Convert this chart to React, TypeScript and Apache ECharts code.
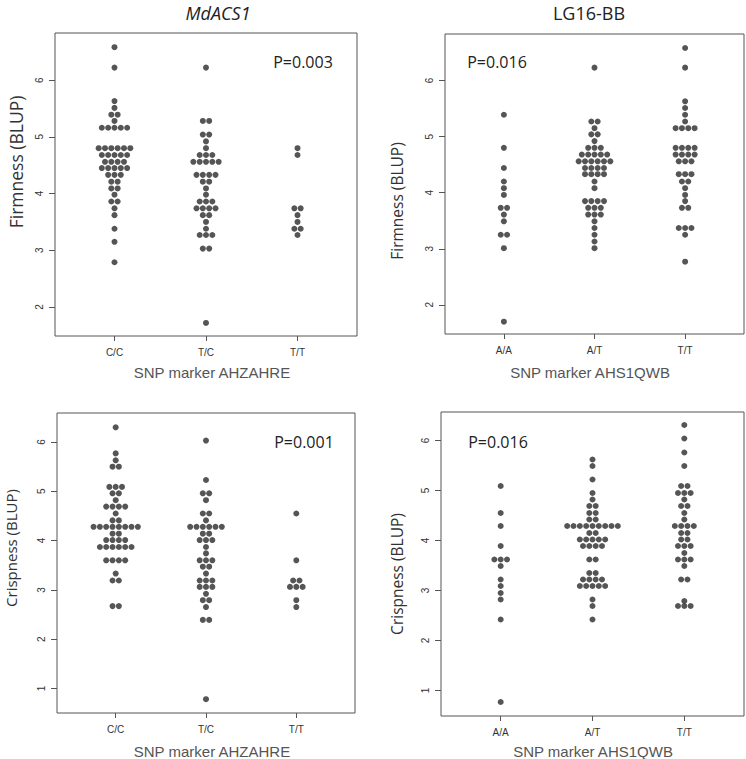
import React, { useEffect, useRef } from "react";
import * as echarts from "echarts";

// tick labels
const FIRM_TICKS = [2, 3, 4, 5, 6];
const CRISP_TICKS = [1, 2, 3, 4, 5, 6];
const AHZ_CATS = ["C/C", "T/C", "T/T"];
const AHS_CATS = ["A/A", "A/T", "T/T"];

// beeswarm rows: [value, number of dots in that row]
const firmCC = [[6.58, 1], [6.22, 1], [5.63, 1], [5.51, 1], [5.39, 2], [5.28, 1], [5.16, 5], [4.8, 6], [4.68, 5], [4.56, 4], [4.45, 5], [4.33, 3], [4.21, 2], [4.09, 2], [3.98, 1], [3.86, 2], [3.74, 1], [3.62, 1], [3.38, 1], [3.15, 1], [2.79, 1]];
const firmTC = [[6.22, 1], [5.28, 2], [5.04, 2], [4.92, 1], [4.8, 1], [4.68, 3], [4.56, 5], [4.33, 4], [4.21, 2], [4.09, 1], [3.98, 1], [3.86, 3], [3.74, 4], [3.62, 2], [3.5, 1], [3.38, 1], [3.27, 3], [3.03, 2], [1.72, 1]];
const firmTT1 = [[4.8, 1], [4.68, 1], [3.74, 2], [3.62, 1], [3.5, 1], [3.38, 2], [3.27, 1]];

const firmAA = [[5.39, 1], [4.8, 1], [4.44, 1], [4.2, 1], [4.08, 1], [3.96, 1], [3.73, 2], [3.61, 1], [3.49, 1], [3.25, 2], [3.01, 1], [1.7, 1]];
const firmAT = [[6.23, 1], [5.27, 2], [5.15, 1], [5.04, 2], [4.92, 1], [4.8, 3], [4.68, 5], [4.56, 6], [4.44, 4], [4.33, 4], [4.2, 1], [4.08, 1], [3.85, 4], [3.73, 3], [3.61, 3], [3.49, 1], [3.37, 1], [3.25, 1], [3.13, 1], [3.01, 1]];
const firmTT2 = [[6.58, 1], [6.23, 1], [5.63, 1], [5.51, 1], [5.39, 1], [5.27, 1], [5.15, 4], [4.8, 4], [4.68, 4], [4.56, 3], [4.33, 3], [4.2, 2], [4.08, 1], [3.96, 1], [3.85, 1], [3.73, 2], [3.37, 3], [3.25, 1], [2.77, 1]];

const crispCC = [[6.3, 1], [5.77, 1], [5.63, 1], [5.5, 2], [5.09, 3], [4.96, 2], [4.82, 1], [4.69, 4], [4.55, 1], [4.41, 2], [4.28, 8], [4.14, 2], [4.01, 4], [3.87, 6], [3.6, 4], [3.33, 1], [3.19, 2], [2.67, 2]];
const crispTC = [[6.03, 1], [5.23, 1], [4.96, 2], [4.82, 1], [4.55, 2], [4.41, 1], [4.28, 6], [4.14, 2], [4.01, 3], [3.87, 1], [3.74, 1], [3.6, 3], [3.47, 2], [3.33, 1], [3.19, 3], [3.06, 3], [2.92, 1], [2.79, 2], [2.65, 1], [2.39, 2], [0.78, 1]];
const crispTT1 = [[4.55, 1], [3.6, 1], [3.19, 2], [3.06, 3], [2.79, 1], [2.65, 1]];

const crispAA = [[5.09, 1], [4.55, 1], [4.29, 1], [3.89, 1], [3.62, 3], [3.49, 1], [3.22, 1], [3.09, 1], [2.95, 1], [2.82, 1], [2.42, 1], [0.77, 1]];
const crispAT = [[5.62, 1], [5.49, 1], [5.22, 1], [4.95, 1], [4.82, 1], [4.69, 2], [4.55, 2], [4.42, 2], [4.29, 9], [4.15, 2], [4.02, 5], [3.89, 4], [3.62, 2], [3.35, 2], [3.22, 4], [3.09, 5], [2.82, 1], [2.69, 1], [2.42, 1]];
const crispTT2 = [[6.31, 1], [6.04, 1], [5.76, 1], [5.49, 1], [5.09, 2], [4.95, 3], [4.82, 1], [4.69, 2], [4.55, 1], [4.42, 1], [4.29, 4], [4.15, 2], [4.02, 2], [3.89, 3], [3.75, 1], [3.62, 3], [3.49, 1], [3.22, 2], [2.79, 1], [2.69, 3]];

const P_VALUES = ["P=0.003", "P=0.016", "P=0.001", "P=0.016"];

// lay out one group's rows side by side around its category position
function swarm(rows: number[][], center: number, step: number) {
  const pts: number[][] = [];
  rows.forEach(([v, n]) => {
    for (let i = 0; i < n; i++) {
      pts.push([center + (i - (n - 1) / 2) * step, v]);
    }
  });
  return pts;
}

const panels = [
  { grid: { left: 55, top: 33, width: 302, height: 303 }, yMin: 1.49, yMax: 6.83, ticks: FIRM_TICKS, cats: AHZ_CATS, groups: [firmCC, firmTC, firmTT1] },
  { grid: { left: 445, top: 34, width: 299, height: 300 }, yMin: 1.48, yMax: 6.83, ticks: FIRM_TICKS, cats: AHS_CATS, groups: [firmAA, firmAT, firmTT2] },
  { grid: { left: 57, top: 413, width: 298, height: 300 }, yMin: 0.5, yMax: 6.59, ticks: CRISP_TICKS, cats: AHZ_CATS, groups: [crispCC, crispTC, crispTT1] },
  { grid: { left: 441, top: 412, width: 303, height: 304 }, yMin: 0.49, yMax: 6.57, ticks: CRISP_TICKS, cats: AHS_CATS, groups: [crispAA, crispAT, crispTT2] },
];

const tickFont = { fontFamily: "Liberation Sans", fontSize: 10, color: "#333" };

const App: React.FC = () => {
  const chartRef = useRef<HTMLDivElement>(null);

  useEffect(() => {
    document.body.style.margin = "0";
    const chartDom = chartRef.current;
    if (!chartDom) return;
    const myChart = echarts.init(chartDom, undefined, { renderer: "svg" });

    const series: any[] = [];
    panels.forEach((p, i) => {
      const step = 6.33 / (p.grid.width / 3.3);
      p.groups.forEach((rows, g) => {
        series.push({
          type: "scatter",
          xAxisIndex: i,
          yAxisIndex: i,
          symbol: "circle",
          symbolSize: 6,
          itemStyle: { color: "#2b2b2b" },
          data: swarm(rows, g + 1, step),
        });
      });
    });

    const text = (t: string, x: number, y: number, extra: any = {}, rot = 0) => ({
      type: "text",
      x,
      y,
      rotation: rot,
      style: {
        text: t,
        textAlign: "center",
        textVerticalAlign: "middle",
        fontFamily: "Open Sans",
        fontSize: 16,
        fill: "#222",
        ...extra,
      },
    });

    const option: echarts.EChartsOption = {
      animation: false,
      backgroundColor: "#fff",
      grid: panels.map((p) => ({
        ...p.grid,
        show: true,
        borderColor: "#555",
        borderWidth: 1,
        backgroundColor: "transparent",
      })),
      xAxis: panels.map((p, i) => ({
        type: "value",
        gridIndex: i,
        min: 0.35,
        max: 3.65,
        splitLine: { show: false },
        axisLine: { show: false },
        axisTick: { show: true, length: 5, customValues: [1, 2, 3], lineStyle: { color: "#555" } },
        axisLabel: {
          ...tickFont,
          margin: 11,
          customValues: [1, 2, 3],
          formatter: (v: number) => p.cats[Math.round(v) - 1] || "",
        },
      })),
      yAxis: panels.map((p, i) => ({
        type: "value",
        gridIndex: i,
        min: p.yMin,
        max: p.yMax,
        splitLine: { show: false },
        axisLine: { show: false },
        axisTick: { show: true, length: 6, customValues: p.ticks, lineStyle: { color: "#555" } },
        axisLabel: {
          ...tickFont,
          rotate: 90,
          margin: 11,
          customValues: p.ticks,
          formatter: (v: number) => String(v),
        },
      })),
      series,
      graphic: [
        text("MdACS1", 218, 13, { fontSize: 18, fontStyle: "italic" }),
        text("LG16-BB", 589, 13, { fontSize: 18 }),
        text(P_VALUES[0], 303, 62),
        text(P_VALUES[1], 497, 62),
        text(P_VALUES[2], 304, 442),
        text(P_VALUES[3], 498, 442),
        text("Firmness (BLUP)", 16, 162, { fontSize: 17.5, fill: "#333" }, Math.PI / 2),
        text("Firmness (BLUP)", 397, 201, { fontSize: 15.5, fill: "#333" }, Math.PI / 2),
        text("Crispness (BLUP)", 11, 548, { fontSize: 15, fill: "#333" }, Math.PI / 2),
        text("Crispness (BLUP)", 397, 574, { fontSize: 15.5, fill: "#333" }, Math.PI / 2),
        text("SNP marker AHZAHRE", 212, 372, { fontFamily: "Liberation Sans", fontSize: 15, fill: "#555" }),
        text("SNP marker AHS1QWB", 590, 372, { fontFamily: "Liberation Sans", fontSize: 15, fill: "#555" }),
        text("SNP marker AHZAHRE", 212, 751, { fontFamily: "Liberation Sans", fontSize: 15, fill: "#555" }),
        text("SNP marker AHS1QWB", 593, 751, { fontFamily: "Liberation Sans", fontSize: 15, fill: "#555" }),
      ] as any,
    };

    myChart.setOption(option);

    return () => {
      myChart.dispose();
    };
  }, []);

  return <div ref={chartRef} style={{ width: "746px", height: "759px" }} />;
};

export default App;
